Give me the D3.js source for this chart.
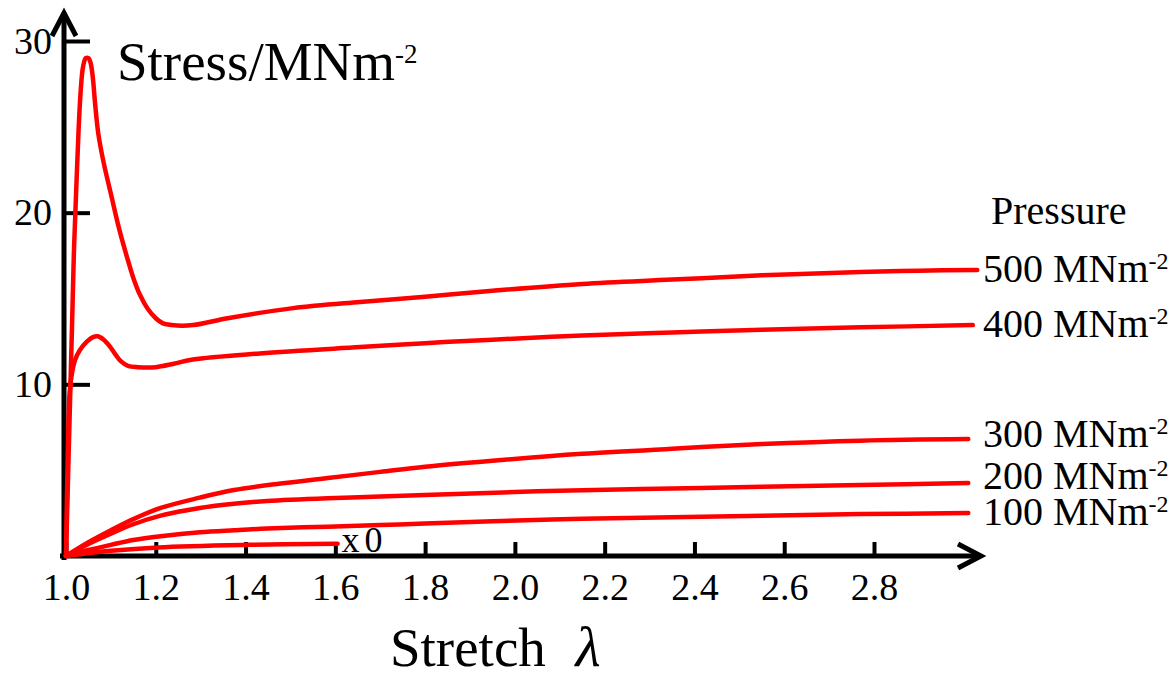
<!DOCTYPE html>
<script src="https://d3js.org/d3.v7.min.js"></script>
<body style="margin: 0; background: #fff;">
<svg id="chart" width="1174" height="675"></svg>
</body>

<style>
  .curves path {
    fill: none;
    stroke: #ff0000;
    stroke-width: 4.5px;
    stroke-linecap: round;
    stroke-linejoin: round;
  }
</style>

<script>

// stretch (lambda) vs stress (MN m^-2)
var curve500 = [[1.000,0],[1.008,8],[1.014,14],[1.018,18],[1.023,21.5],[1.028,24.8],[1.033,27.2],[1.038,28.5],
  [1.044,29.0],[1.05,29.0],[1.055,28.7],[1.06,27.8],[1.065,26.3],[1.072,24.6],[1.084,22.9],[1.1,21.1],
  [1.118,19.1],[1.136,17.4],[1.15,16.2],[1.165,15.2],[1.182,14.4],[1.2,13.85],[1.216,13.55],[1.235,13.45],
  [1.283,13.45],[1.36,13.85],[1.506,14.44],[1.655,14.8],[1.8,15.1],[1.95,15.45],[2.15,15.85],[2.35,16.1],
  [2.55,16.35],[2.77,16.54],[2.9,16.62],[3.03,16.66]];
var curve400 = [[1.000,0],[1.004,6],[1.008,9.5],[1.013,10.6],[1.02,11.4],[1.031,12.0],[1.047,12.5],[1.06,12.75],
  [1.071,12.8],[1.084,12.6],[1.098,12.2],[1.11,11.75],[1.122,11.35],[1.138,11.08],[1.16,11.0],[1.2,11.0],
  [1.24,11.2],[1.283,11.45],[1.432,11.8],[1.655,12.17],[1.8,12.4],[1.95,12.6],[2.15,12.85],[2.35,13.02],
  [2.55,13.18],[2.77,13.32],[3.02,13.45]];
var curve300 = [[1.0,0],[1.05,0.8],[1.1,1.5],[1.15,2.15],[1.211,2.8],[1.298,3.4],[1.374,3.84],[1.47,4.2],
  [1.583,4.54],[1.7,4.9],[1.8,5.2],[1.95,5.55],[2.15,5.95],[2.35,6.25],[2.55,6.52],[2.77,6.72],[3.01,6.81]];
var curve200 = [[1.0,0],[1.05,0.7],[1.1,1.3],[1.15,1.85],[1.211,2.35],[1.298,2.8],[1.374,3.05],[1.448,3.2],
  [1.583,3.36],[1.7,3.46],[1.85,3.6],[2.0,3.73],[2.15,3.83],[2.35,3.93],[2.55,4.03],[2.77,4.13],[3.01,4.25]];
var curve100 = [[1.0,0],[1.05,0.35],[1.1,0.65],[1.15,0.93],[1.211,1.15],[1.298,1.38],[1.374,1.5],[1.448,1.6],
  [1.583,1.71],[1.7,1.8],[1.8,1.9],[1.95,2.03],[2.15,2.17],[2.35,2.26],[2.55,2.34],[2.77,2.44],[3.01,2.5]];
var curve0 = [[1.0,0],[1.1,0.3],[1.205,0.5],[1.405,0.65],[1.605,0.72]];

var pressures = ["500", "400", "300", "200", "100"];
var labelNudge = [12, 12, 8, 6, 12];
var xTicks = [1.0, 1.2, 1.4, 1.6, 1.8, 2.0, 2.2, 2.4, 2.6, 2.8];
var yTicks = [10, 20, 30];

var serif = "'Liberation Serif', 'Times New Roman', serif";

var svg = d3.select("#chart").attr("font-family", serif);

var x = d3.scaleLinear().domain([1, 2.8]).range([66, 874]);
var y = d3.scaleLinear().domain([0, 30]).range([556, 41]);

// x ticks point up into the plot, labels sit below
var xAxis = svg.append("g")
    .attr("transform", "translate(0," + y(0) + ")")
    .call(d3.axisBottom(x).tickValues(xTicks).tickSize(-14).tickPadding(17)
      .tickFormat(d3.format(".1f")));
xAxis.attr("font-family", serif).attr("font-size", 38);
xAxis.select(".domain").remove();
xAxis.selectAll("line").attr("stroke", "#000").attr("stroke-width", 4);
xAxis.selectAll("text").attr("fill", "#000");

var yAxis = svg.append("g")
    .attr("transform", "translate(64,0)")
    .call(d3.axisLeft(y).tickValues(yTicks).tickSize(-26).tickPadding(12));
yAxis.attr("font-family", serif).attr("font-size", 38);
yAxis.select(".domain").remove();
yAxis.selectAll("line").attr("stroke", "#000").attr("stroke-width", 4);
yAxis.selectAll("text").attr("fill", "#000");

// axis lines with arrow heads
svg.append("line").attr("x1", 64).attr("y1", 560).attr("x2", 64).attr("y2", 14)
   .attr("stroke", "#000").attr("stroke-width", 5);
svg.append("path").attr("d", "M52,36L64,13L76,36")
   .attr("fill", "none").attr("stroke", "#000").attr("stroke-width", 5);
svg.append("line").attr("x1", 60).attr("y1", y(0)).attr("x2", 980).attr("y2", y(0))
   .attr("stroke", "#000").attr("stroke-width", 5);
svg.append("path").attr("d", "M958,544L981,556L958,568")
   .attr("fill", "none").attr("stroke", "#000").attr("stroke-width", 5);

var line = d3.line()
    .x(function(d) { return x(d[0]); })
    .y(function(d) { return y(d[1]); })
    .curve(d3.curveCatmullRom.alpha(0.5));

var curves = [curve500, curve400, curve300, curve200, curve100];

var g = svg.append("g").attr("class", "curves");
g.selectAll("path")
  .data(curves.concat([curve0]))
  .join("path")
    .attr("d", line);

// labels at the line ends
var labels = svg.append("g").selectAll("text")
  .data(curves)
  .join("text")
    .attr("x", 983)
    .attr("y", function(d, i) { return y(d[d.length - 1][1]) + labelNudge[i]; })
    .attr("font-size", 40);
labels.append("tspan").text(function(d, i) { return pressures[i] + " MNm"; });
labels.append("tspan").attr("dy", -13).attr("font-size", 24).text("-2");

svg.append("text").attr("x", 991).attr("y", 224)
   .attr("font-size", 40).text("Pressure");

var last0 = curve0[curve0.length - 1];
svg.append("text")
   .attr("x", x(last0[0]) + 4).attr("y", 552)
   .attr("font-size", 36).attr("letter-spacing", 5)
   .text("x0");

// axis titles
var yt = svg.append("text").attr("x", 117).attr("y", 80).attr("font-size", 55);
yt.append("tspan").text("Stress/MNm");
yt.append("tspan").attr("dy", -17).attr("font-size", 27).text("-2");

var xt = svg.append("text").attr("x", 390).attr("y", 666).attr("font-size", 55);
xt.append("tspan").text("Stretch ");
xt.append("tspan").attr("dx", 16).attr("font-style", "italic").attr("font-size", 58).text("λ");

</script>
